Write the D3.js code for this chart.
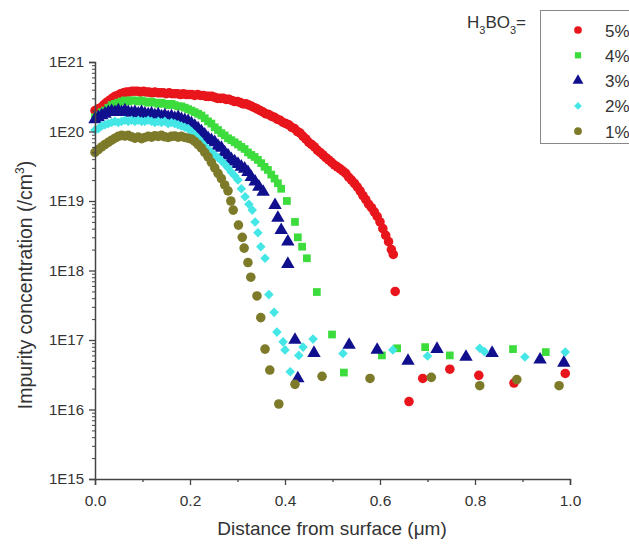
<!DOCTYPE html>
<html>
<head>
<meta charset="utf-8">
<script src="https://cdn.jsdelivr.net/npm/d3@7"></script>
<style>
  body { margin: 0; background: #fff; }
  text { font-family: Arial, "Liberation Sans", sans-serif; fill: #333; }
</style>
</head>
<body>
<svg id="chart" width="629" height="545"></svg>
<script>
// series data: [depth (um), concentration (/cm3)]
const h5 = [[0.000,2.0e20],[0.006,2.1e20],[0.012,2.2e20],[0.018,2.4e20],[0.024,2.6e20],[0.030,2.8e20],[0.036,3.0e20],[0.042,3.2e20],[0.048,3.3e20],[0.054,3.5e20],[0.060,3.6e20],[0.066,3.7e20],[0.072,3.7e20],[0.078,3.8e20],[0.084,3.8e20],[0.090,3.8e20],[0.096,3.7e20],[0.102,3.8e20],[0.108,3.7e20],[0.114,3.7e20],[0.120,3.6e20],[0.126,3.7e20],[0.132,3.6e20],[0.138,3.6e20],[0.144,3.6e20],[0.150,3.5e20],[0.156,3.6e20],[0.162,3.5e20],[0.168,3.5e20],[0.174,3.5e20],[0.180,3.4e20],[0.186,3.5e20],[0.192,3.4e20],[0.198,3.4e20],[0.204,3.4e20],[0.210,3.3e20],[0.216,3.4e20],[0.222,3.3e20],[0.228,3.3e20],[0.234,3.2e20],[0.240,3.2e20],[0.246,3.2e20],[0.252,3.1e20],[0.258,3.0e20],[0.264,3.0e20],[0.270,3.0e20],[0.276,2.9e20],[0.282,2.9e20],[0.288,2.8e20],[0.294,2.7e20],[0.300,2.7e20],[0.306,2.6e20],[0.312,2.5e20],[0.318,2.5e20],[0.324,2.4e20],[0.330,2.3e20],[0.336,2.2e20],[0.342,2.1e20],[0.348,2.0e20],[0.354,1.9e20],[0.360,1.8e20],[0.366,1.75e20],[0.372,1.65e20],[0.378,1.6e20],[0.384,1.5e20],[0.390,1.45e20],[0.396,1.35e20],[0.402,1.3e20],[0.408,1.25e20],[0.414,1.15e20],[0.420,1.1e20],[0.426,1.0e20],[0.432,9.5e19],[0.438,8.5e19],[0.444,7.8e19],[0.450,7.0e19],[0.456,6.5e19],[0.462,6.0e19],[0.468,5.4e19],[0.474,5.0e19],[0.480,4.6e19],[0.486,4.2e19],[0.492,3.9e19],[0.498,3.6e19],[0.504,3.3e19],[0.510,3.1e19],[0.516,2.9e19],[0.522,2.7e19],[0.528,2.5e19],[0.534,2.2e19],[0.540,2.0e19],[0.546,1.8e19],[0.552,1.6e19],[0.558,1.4e19],[0.564,1.2e19],[0.570,1.05e19],[0.576,9.0e18],[0.582,8.0e18],[0.588,7.0e18],[0.594,6.0e18],[0.600,5.0e18],[0.606,4.0e18],[0.612,3.2e18],[0.618,2.6e18],[0.624,2.0e18],[0.628,1.7e18],[0.632,5.0e17],[0.661,1.3e16],[0.690,2.8e16],[0.747,3.8e16],[0.808,3.1e16],[0.882,2.4e16],[0.990,3.3e16]];

const h4 = [[0.000,1.6e20],[0.007,1.7e20],[0.014,1.9e20],[0.021,2.0e20],[0.028,2.2e20],[0.035,2.4e20],[0.042,2.5e20],[0.049,2.6e20],[0.056,2.7e20],[0.063,2.8e20],[0.070,2.7e20],[0.077,2.8e20],[0.084,2.8e20],[0.091,2.7e20],[0.098,2.8e20],[0.105,2.7e20],[0.112,2.6e20],[0.119,2.7e20],[0.126,2.6e20],[0.133,2.5e20],[0.140,2.6e20],[0.147,2.5e20],[0.154,2.4e20],[0.161,2.5e20],[0.168,2.4e20],[0.175,2.3e20],[0.182,2.3e20],[0.189,2.2e20],[0.196,2.1e20],[0.203,2.0e20],[0.210,1.9e20],[0.217,1.8e20],[0.224,1.7e20],[0.231,1.55e20],[0.238,1.4e20],[0.245,1.3e20],[0.252,1.15e20],[0.259,1.05e20],[0.266,9.5e19],[0.273,8.8e19],[0.280,8.0e19],[0.287,7.5e19],[0.294,7.0e19],[0.301,6.5e19],[0.308,6.0e19],[0.315,5.6e19],[0.322,5.0e19],[0.329,4.6e19],[0.336,4.3e19],[0.343,3.9e19],[0.350,3.5e19],[0.357,3.1e19],[0.364,2.8e19],[0.371,2.4e19],[0.378,2.1e19],[0.385,1.8e19],[0.392,1.5e19],[0.404,1.0e19],[0.421,5.0e18],[0.427,3.0e18],[0.436,2.2e18],[0.446,1.5e18],[0.467,4.9e17],[0.499,1.2e17],[0.524,3.4e16],[0.604,6.0e16],[0.636,7.6e16],[0.695,7.9e16],[0.747,6.0e16],[0.880,7.4e16],[0.949,6.7e16]];

const h3 = [[0.000,1.5e20],[0.007,1.6e20],[0.014,1.7e20],[0.021,1.8e20],[0.028,1.9e20],[0.035,1.95e20],[0.042,1.9e20],[0.049,2.0e20],[0.056,1.9e20],[0.063,2.0e20],[0.070,1.9e20],[0.077,1.85e20],[0.084,1.9e20],[0.091,1.8e20],[0.098,1.9e20],[0.105,1.8e20],[0.112,1.75e20],[0.119,1.8e20],[0.126,1.7e20],[0.133,1.75e20],[0.140,1.65e20],[0.147,1.7e20],[0.154,1.6e20],[0.161,1.65e20],[0.168,1.55e20],[0.175,1.6e20],[0.182,1.5e20],[0.189,1.45e20],[0.196,1.4e20],[0.203,1.3e20],[0.210,1.2e20],[0.217,1.1e20],[0.224,1.0e20],[0.231,9.0e19],[0.238,8.0e19],[0.245,7.5e19],[0.252,7.0e19],[0.259,6.2e19],[0.266,5.8e19],[0.273,5.0e19],[0.280,4.5e19],[0.287,4.0e19],[0.294,3.7e19],[0.301,3.4e19],[0.308,3.1e19],[0.315,2.9e19],[0.322,2.6e19],[0.329,2.2e19],[0.337,1.9e19],[0.345,1.6e19],[0.354,1.35e19],[0.379,8.7e18],[0.385,5.7e18],[0.392,3.8e18],[0.406,2.6e18],[0.406,1.24e18],[0.421,1.0e17],[0.427,2.8e16],[0.461,6.5e16],[0.535,8.5e16],[0.594,7.2e16],[0.659,5.0e16],[0.720,7.4e16],[0.781,5.7e16],[0.836,6.5e16],[0.937,5.2e16],[0.987,4.7e16]];

const h2 = [[0.000,1.05e20],[0.007,1.1e20],[0.014,1.2e20],[0.021,1.25e20],[0.028,1.3e20],[0.035,1.35e20],[0.042,1.4e20],[0.049,1.35e20],[0.056,1.4e20],[0.063,1.45e20],[0.070,1.4e20],[0.077,1.45e20],[0.084,1.4e20],[0.091,1.45e20],[0.098,1.4e20],[0.105,1.4e20],[0.112,1.45e20],[0.119,1.4e20],[0.126,1.35e20],[0.133,1.4e20],[0.140,1.35e20],[0.147,1.4e20],[0.154,1.3e20],[0.161,1.35e20],[0.168,1.3e20],[0.175,1.25e20],[0.182,1.2e20],[0.189,1.15e20],[0.196,1.1e20],[0.203,1.0e20],[0.210,9.0e19],[0.217,8.0e19],[0.224,7.0e19],[0.231,6.2e19],[0.238,5.6e19],[0.245,5.0e19],[0.252,4.6e19],[0.259,4.2e19],[0.266,3.8e19],[0.273,3.4e19],[0.280,3.0e19],[0.287,2.6e19],[0.294,2.3e19],[0.301,2.0e19],[0.308,1.5e19],[0.316,1.15e19],[0.324,9.0e18],[0.331,7.4e18],[0.337,5.0e18],[0.343,3.5e18],[0.349,2.2e18],[0.358,1.5e18],[0.366,4.5e17],[0.377,2.5e17],[0.383,1.3e17],[0.396,9.4e16],[0.400,7.2e16],[0.411,3.5e16],[0.429,6.0e16],[0.438,7.9e16],[0.459,1.03e17],[0.522,6.4e16],[0.627,7.2e16],[0.700,5.9e16],[0.810,7.6e16],[0.820,6.8e16],[0.905,5.7e16],[0.990,6.7e16]];

const h1 = [[0.000,5.0e19],[0.007,5.5e19],[0.014,6.0e19],[0.021,6.5e19],[0.028,7.0e19],[0.035,7.5e19],[0.042,8.0e19],[0.049,8.5e19],[0.056,8.8e19],[0.063,8.6e19],[0.070,8.8e19],[0.077,8.4e19],[0.084,8.0e19],[0.091,8.3e19],[0.098,7.9e19],[0.105,8.2e19],[0.112,8.5e19],[0.119,8.3e19],[0.126,8.7e19],[0.133,8.5e19],[0.140,8.8e19],[0.147,8.4e19],[0.154,8.2e19],[0.161,8.5e19],[0.168,8.6e19],[0.175,8.3e19],[0.182,8.5e19],[0.189,8.2e19],[0.196,8.0e19],[0.203,7.8e19],[0.210,7.2e19],[0.217,6.5e19],[0.224,5.8e19],[0.231,5.0e19],[0.238,4.3e19],[0.245,3.6e19],[0.252,3.0e19],[0.259,2.5e19],[0.266,2.1e19],[0.273,1.7e19],[0.280,1.4e19],[0.286,1.0e19],[0.291,7.4e18],[0.302,4.5e18],[0.310,3.0e18],[0.314,2.1e18],[0.322,1.3e18],[0.328,8.0e17],[0.341,4.3e17],[0.349,2.1e17],[0.358,7.4e16],[0.368,3.7e16],[0.387,1.2e16],[0.421,2.3e16],[0.478,3.0e16],[0.579,2.8e16],[0.708,2.9e16],[0.810,2.2e16],[0.888,2.7e16],[0.977,2.2e16]];

const seriesNames = ["5%", "4%", "3%", "2%", "1%"];
const seriesData = [h5, h4, h3, h2, h1];
const colors = ["#e8161c", "#3ddc3d", "#10108f", "#44e6e6", "#7d7a2a"];
// diamond drawn as a square turned 45 degrees
const shapes = [d3.symbolCircle, d3.symbolSquare, d3.symbolTriangle, d3.symbolSquare, d3.symbolCircle];
const shapeRot = [0, 0, 0, 45, 0];
const shapeSizes = [72, 60, 78, 46, 72];
const yTickValues = [1e15, 1e16, 1e17, 1e18, 1e19, 1e20, 1e21];
const xTickValues = [0, 0.2, 0.4, 0.6, 0.8, 1.0];

const margin = { top: 62, left: 95 },
  innerWidth = 475,
  innerHeight = 417;

const svg = d3.select("#chart");
const g = svg.append("g").attr("transform", `translate(${margin.left},${margin.top})`);

let xScale = d3.scaleLinear().domain([0, 1.0]).range([0, innerWidth]);
let yScale = d3.scaleLog().domain([1e15, 1e21]).range([innerHeight, 0]);

// points
seriesData.forEach((data, i) => {
  g.append("g").selectAll("path").data(data).join("path")
    .attr("transform", d => `translate(${xScale(d[0])},${yScale(d[1])}) rotate(${shapeRot[i]})`)
    .attr("d", d3.symbol().type(shapes[i]).size(shapeSizes[i]))
    .attr("fill", colors[i]);
});

// y axis (minor ticks without labels)
let minorY = [];
for (let e = 15; e < 21; e++) for (let m = 2; m < 10; m++) minorY.push(m * Math.pow(10, e));
g.append("g").call(d3.axisLeft(yScale).tickValues(minorY).tickSize(3).tickFormat(""))
  .call(a => a.select(".domain").remove())
  .call(a => a.selectAll("text").remove())
  .selectAll("line").attr("stroke", "#444");
const yAxis = g.append("g").call(d3.axisLeft(yScale).tickValues(yTickValues).tickSize(6).tickPadding(5)
  .tickFormat(d => "1E" + Math.round(Math.log10(d))));
yAxis.select(".domain").attr("stroke", "#444").attr("stroke-width", 1.5);
yAxis.selectAll("line").attr("stroke", "#444").attr("stroke-width", 1.3);
yAxis.selectAll("text").style("font-size", "15px").style("font-family", "Arial, 'Liberation Sans', sans-serif").attr("fill", "#333");

// x axis
g.append("g").attr("transform", `translate(0,${innerHeight})`)
  .call(d3.axisBottom(xScale).tickValues([0.1, 0.3, 0.5, 0.7, 0.9]).tickSize(3).tickFormat(""))
  .call(a => a.select(".domain").remove())
  .call(a => a.selectAll("text").remove())
  .selectAll("line").attr("stroke", "#444").attr("stroke-width", 1.3);
const xAxis = g.append("g").attr("transform", `translate(0,${innerHeight})`)
  .call(d3.axisBottom(xScale).tickValues(xTickValues).tickSize(6).tickPadding(10).tickFormat(d3.format(".1f")));
xAxis.select(".domain").attr("stroke", "#444").attr("stroke-width", 1.5);
xAxis.selectAll("line").attr("stroke", "#444").attr("stroke-width", 1.3);
xAxis.selectAll("text").style("font-size", "15.5px").style("font-family", "Arial, 'Liberation Sans', sans-serif").attr("fill", "#333");

// axis titles
svg.append("text").attr("x", 332).attr("y", 535)
  .attr("text-anchor", "middle").style("font-size", "19px").text("Distance from surface (\u03bcm)");
const yt = svg.append("text").attr("transform", `translate(32,285) rotate(-90)`)
  .attr("text-anchor", "middle").style("font-size", "19.5px");
yt.append("tspan").text("Impurity concentration (/cm");
yt.append("tspan").attr("dy", -8).style("font-size", "12px").text("3");
yt.append("tspan").attr("dy", 8).text(")");

// legend
const lt = svg.append("text").attr("x", 467).attr("y", 28).style("font-size", "17px");
lt.append("tspan").text("H");
lt.append("tspan").attr("dy", 6).style("font-size", "11px").text("3");
lt.append("tspan").attr("dy", -6).text("BO");
lt.append("tspan").attr("dy", 6).style("font-size", "11px").text("3");
lt.append("tspan").attr("dy", -6).text("=");

svg.append("rect").attr("x", 540.5).attr("y", 10.5).attr("width", 100).attr("height", 133)
  .attr("fill", "#fff").attr("stroke", "#888").attr("stroke-width", 1);

const legend = svg.append("g").selectAll("g").data(seriesNames).join("g")
  .attr("transform", (d, i) => `translate(578,${30 + i * 25.3})`);
legend.append("path")
  .attr("transform", (d, i) => `rotate(${shapeRot[i]})`)
  .attr("d", (d, i) => d3.symbol().type(shapes[i]).size(shapeSizes[i] * 0.65)())
  .attr("fill", (d, i) => colors[i]);
legend.append("text").attr("x", 27).attr("y", 6.5).style("font-size", "17px").text(d => d);
</script>
</body>
</html>
